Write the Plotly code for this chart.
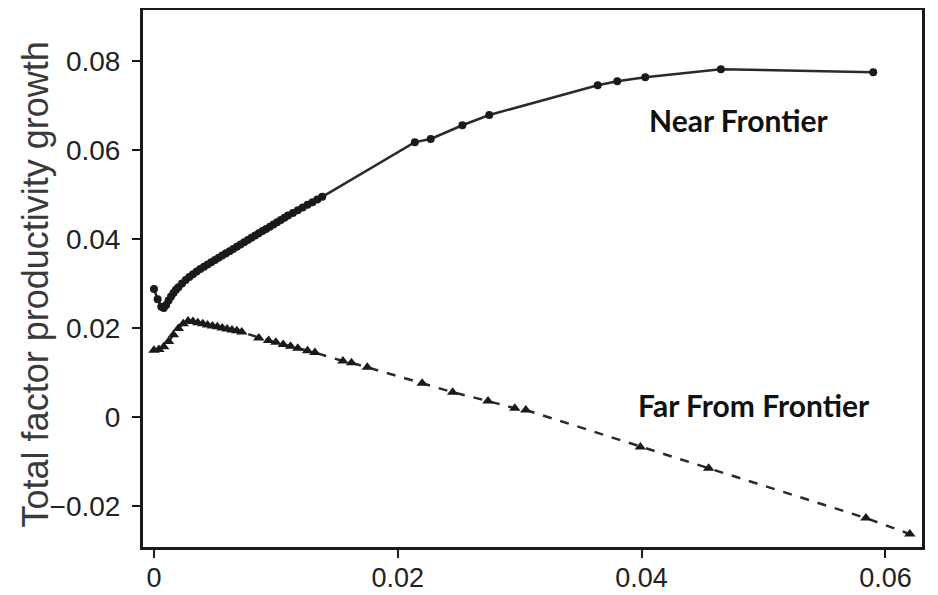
import plotly.graph_objects as go

# Near Frontier (solid line, dots)
near_x = [0.0000, 0.0003, 0.0006, 0.0008, 0.0010, 0.0012, 0.0014, 0.0016, 0.0018, 0.0020,
          0.0023, 0.0026, 0.0029, 0.0032, 0.0035, 0.0038, 0.0041, 0.0044, 0.0047, 0.0050,
          0.0053, 0.0056, 0.0059, 0.0062, 0.0065, 0.0068, 0.0071, 0.0074, 0.0077, 0.0080,
          0.0083, 0.0086, 0.0089, 0.0092, 0.0095, 0.0098, 0.0101, 0.0104, 0.0107, 0.0110,
          0.0114, 0.0118, 0.0122, 0.0126, 0.0130, 0.0134, 0.0138, 0.0214, 0.0227, 0.0253,
          0.0275, 0.0364, 0.0380, 0.0403, 0.0465, 0.0590]
near_y = [0.0288, 0.0265, 0.0248, 0.0245, 0.0252, 0.0262, 0.0271, 0.0279, 0.0286, 0.0292,
          0.0300, 0.0308, 0.0315, 0.0321, 0.0327, 0.0333, 0.0338, 0.0343, 0.0348, 0.0353,
          0.0358, 0.0363, 0.0368, 0.0373, 0.0378, 0.0383, 0.0388, 0.0393, 0.0398, 0.0403,
          0.0408, 0.0413, 0.0418, 0.0423, 0.0428, 0.0433, 0.0438, 0.0443, 0.0448, 0.0453,
          0.0459, 0.0465, 0.0471, 0.0477, 0.0483, 0.0489, 0.0495, 0.0618, 0.0625, 0.0656,
          0.0679, 0.0746, 0.0755, 0.0764, 0.0782, 0.0775]

# Far From Frontier (dashed line, triangles)
far_x = [0.0000, 0.0004, 0.0008, 0.0012, 0.0016, 0.0020, 0.0024, 0.0028, 0.0032, 0.0036,
         0.0040, 0.0044, 0.0048, 0.0052, 0.0056, 0.0060, 0.0064, 0.0068, 0.0072, 0.0086,
         0.0094, 0.0100, 0.0106, 0.0112, 0.0118, 0.0126, 0.0132, 0.0155, 0.0162, 0.0175,
         0.0220, 0.0245, 0.0274, 0.0296, 0.0305, 0.0399, 0.0455, 0.0584, 0.0620]
far_y = [0.0150, 0.0152, 0.0158, 0.0170, 0.0185, 0.0199, 0.0210, 0.0216, 0.0215, 0.0212,
         0.0210, 0.0207, 0.0205, 0.0203, 0.0200, 0.0198, 0.0196, 0.0194, 0.0191, 0.0178,
         0.0172, 0.0168, 0.0163, 0.0159, 0.0155, 0.0149, 0.0145, 0.0126, 0.0122, 0.0112,
         0.0076, 0.0056, 0.0036, 0.0020, 0.0016, -0.0067, -0.0115, -0.0227, -0.0263]

y_ticks = [-0.02, 0, 0.02, 0.04, 0.06, 0.08]
y_labels = ['\u22120.02', '0', '0.02', '0.04', '0.06', '0.08']
x_ticks = [0, 0.02, 0.04, 0.06]
x_labels = ['0', '0.02', '0.04', '0.06']

fig = go.Figure()
fig.add_trace(go.Scatter(
    x=near_x, y=near_y, mode='lines+markers',
    line=dict(color='#2a2a2a', width=2.5),
    marker=dict(symbol='circle', size=8, color='#1a1a1a'),
    showlegend=False
))
fig.add_trace(go.Scatter(
    x=far_x, y=far_y, mode='lines+markers',
    line=dict(color='#2a2a2a', width=2.5, dash='dash'),
    marker=dict(symbol='triangle-up', size=10, color='#1a1a1a'),
    showlegend=False
))

fig.add_annotation(x=0.0480, y=0.0667, text='<b>Near Frontier</b>', showarrow=False,
                   font=dict(family='Lato, Open Sans, sans-serif', size=30, color='#111'))
fig.add_annotation(x=0.0492, y=0.0027, text='<b>Far From Frontier</b>', showarrow=False,
                   font=dict(family='Lato, Open Sans, sans-serif', size=30, color='#111'))
# y axis title as a rotated annotation so it can sit close to the tick labels
fig.add_annotation(xref='paper', yref='paper', x=-0.1386, y=0.489,
                   text='Total factor productivity growth', textangle=-90,
                   showarrow=False, xanchor='center', yanchor='middle',
                   font=dict(family='Liberation Sans, Arial, sans-serif', size=36, color='#3a3a3a'))

tick_font = dict(family='Liberation Sans, Arial, sans-serif', size=28, color='#222')
# page body adds an 8px margin, so the figure is drawn 8px smaller
fig.update_layout(
    width=930, height=587,
    margin=dict(l=135, r=16, t=2, b=48),
    paper_bgcolor='white', plot_bgcolor='white',
    xaxis=dict(range=[-0.0009, 0.0630], tickvals=x_ticks, ticktext=x_labels,
               automargin=False, ticklabelstandoff=-3,
               showgrid=False, zeroline=False, showline=True, mirror=True,
               linecolor='#1a1a1a', linewidth=3, ticks='outside', ticklen=8,
               tickwidth=2, tickcolor='#1a1a1a',
               tickfont=dict(family='Liberation Sans, Arial, sans-serif', size=27, color='#222')),
    yaxis=dict(range=[-0.0292, 0.0915], tickvals=y_ticks, ticktext=y_labels,
               automargin=False, ticklabelstandoff=6,
               showgrid=False, zeroline=False, showline=True, mirror=True,
               linecolor='#1a1a1a', linewidth=3, ticks='outside', ticklen=8,
               tickwidth=2, tickcolor='#1a1a1a', tickfont=tick_font),
)

fig.write_html("out.html")
